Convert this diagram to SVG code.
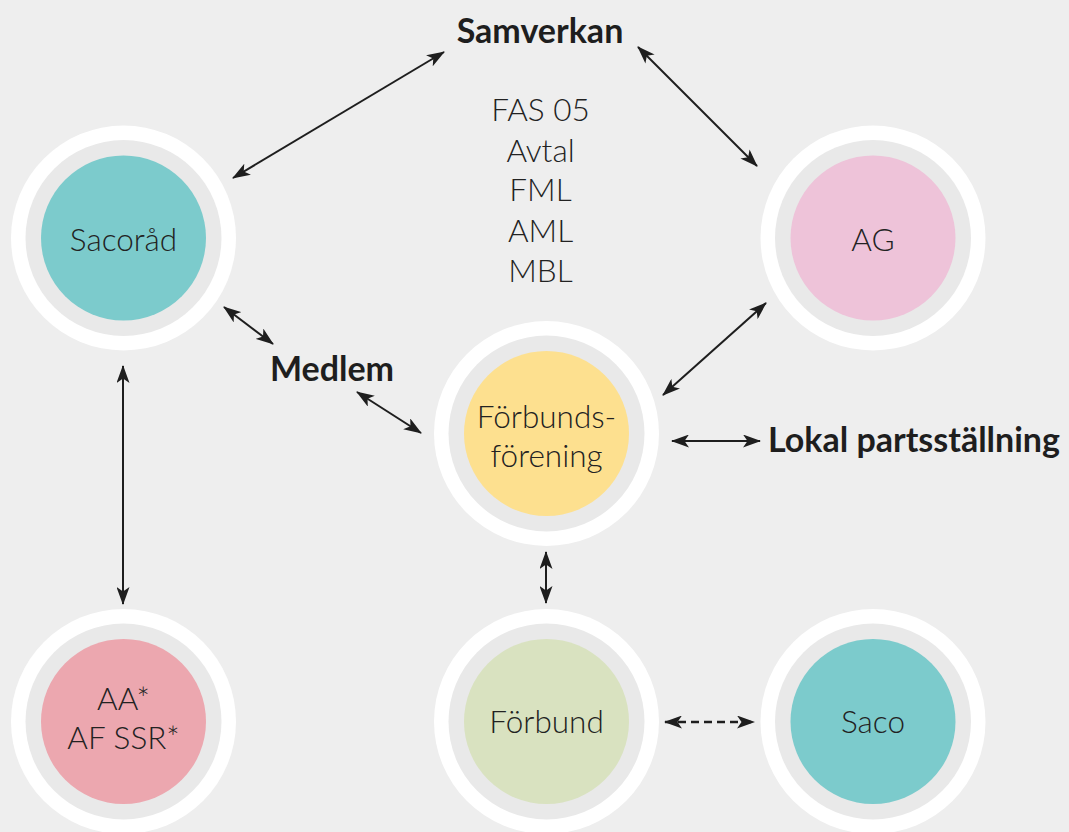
<svg xmlns="http://www.w3.org/2000/svg" width="1069" height="832" viewBox="0 0 1069 832">
<style>
.bg{fill:#eeeeee}
.outer{fill:#ffffff}
.ring{fill:#e9e9e9}
.lbl{font-family:Lato,"Open Sans","Liberation Sans",sans-serif;font-weight:300;font-size:31.5px;fill:#222222;text-anchor:middle}
.bold{font-family:Lato,"Open Sans","Liberation Sans",sans-serif;font-weight:700;font-size:34px;fill:#1e1e1e;text-anchor:middle}
.con{stroke:#1e1e1e;stroke-width:2;fill:none;marker-start:url(#ah);marker-end:url(#ah)}
.dash{stroke-dasharray:8 5;stroke-width:2.5}
</style>
<defs>
<marker id="ah" markerUnits="userSpaceOnUse" viewBox="0 0 18 13" refX="17" refY="6.5" markerWidth="18" markerHeight="13" orient="auto-start-reverse">
<path d="M0,0 L18,6.5 L0,13 L4.5,6.5 z" fill="#1e1e1e"/>
</marker>
</defs>
<rect class="bg" x="0" y="0" width="1069" height="832"/>

<g id="connectors">
<line class="con" x1="233" y1="178" x2="444" y2="52"/>
<line class="con" x1="638" y1="47" x2="757" y2="166"/>
<line class="con" x1="224" y1="307" x2="273" y2="344"/>
<line class="con" x1="357" y1="392" x2="421" y2="433"/>
<line class="con" x1="766" y1="303" x2="663" y2="395"/>
<line class="con" x1="672" y1="441" x2="760" y2="441"/>
<line class="con" x1="546" y1="552" x2="546" y2="603"/>
<line class="con" x1="123" y1="366" x2="123" y2="604"/>
<line class="con dash" x1="665" y1="722" x2="754" y2="722"/>
</g>

<g id="sacorad">
<circle class="outer" cx="123.5" cy="238" r="112.5"/>
<circle class="ring" cx="123.5" cy="238" r="98"/>
<circle cx="123.5" cy="238" r="82.5" fill="#7ccbcc"/>
<text class="lbl" x="123.5" y="251">Sacoråd</text>
</g>

<g id="ag">
<circle class="outer" cx="873" cy="238" r="112.5"/>
<circle class="ring" cx="873" cy="238" r="98"/>
<circle cx="873" cy="238" r="82.5" fill="#eec3d9"/>
<text class="lbl" x="873" y="251">AG</text>
</g>

<g id="forbundsforening">
<circle class="outer" cx="546.5" cy="433.5" r="112.5"/>
<circle class="ring" cx="546.5" cy="433.5" r="98"/>
<circle cx="546.5" cy="433.5" r="82.5" fill="#fde08f"/>
<text class="lbl" x="546.5" y="428">Förbunds-</text>
<text class="lbl" x="546.5" y="467">förening</text>
</g>

<g id="aa">
<circle class="outer" cx="123.5" cy="721.5" r="112.5"/>
<circle class="ring" cx="123.5" cy="721.5" r="98"/>
<circle cx="123.5" cy="721.5" r="82.5" fill="#eca7af"/>
<text class="lbl" x="123.5" y="710">AA*</text>
<text class="lbl" x="123.5" y="749">AF SSR*</text>
</g>

<g id="forbund">
<circle class="outer" cx="546.5" cy="721.5" r="112.5"/>
<circle class="ring" cx="546.5" cy="721.5" r="98"/>
<circle cx="546.5" cy="721.5" r="82.5" fill="#d9e2c0"/>
<text class="lbl" x="546.5" y="733">Förbund</text>
</g>

<g id="saco">
<circle class="outer" cx="873" cy="721.5" r="112.5"/>
<circle class="ring" cx="873" cy="721.5" r="98"/>
<circle cx="873" cy="721.5" r="82.5" fill="#7ccbcc"/>
<text class="lbl" x="873" y="733">Saco</text>
</g>

<g id="samverkan">
<text class="bold" x="540" y="43">Samverkan</text>
</g>

<g id="lagar">
<text class="lbl" x="540.5" y="121">FAS 05</text>
<text class="lbl" x="540.5" y="161.5">Avtal</text>
<text class="lbl" x="540.5" y="201">FML</text>
<text class="lbl" x="540.5" y="241.5">AML</text>
<text class="lbl" x="540.5" y="281.5">MBL</text>
</g>

<g id="medlem">
<text class="bold" x="332" y="381">Medlem</text>
</g>

<g id="lokal">
<text class="bold" x="914" y="452">Lokal partsställning</text>
</g>
</svg>
